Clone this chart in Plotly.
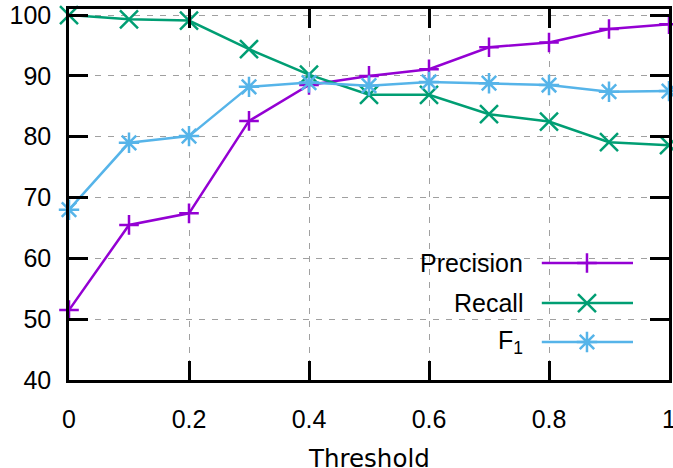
import plotly.graph_objects as go

thresholds = [0.0, 0.1, 0.2, 0.3, 0.4, 0.5, 0.6, 0.7, 0.8, 0.9, 1.0]
precision = [51.5, 65.5, 67.4, 82.6, 88.5, 90.0, 91.1, 94.7, 95.5, 97.7, 98.5]
recall = [100.0, 99.3, 99.1, 94.4, 90.2, 86.9, 86.9, 83.7, 82.5, 79.1, 78.6]
f1 = [68.0, 79.0, 80.1, 88.2, 88.9, 88.4, 89.0, 88.8, 88.5, 87.4, 87.5]

series_names = ["Precision", "Recall", "F<sub>1</sub>"]
series_colors = ["#9400d3", "#009e73", "#56b4e9"]
series_symbols = ["cross-thin", "x-thin", "asterisk-open"]
series_sizes = [14, 18, 17]
series_values = [precision, recall, f1]

x_ticks = [0, 0.2, 0.4, 0.6, 0.8, 1]
x_ticklabels = ["0", "0.2", "0.4", "0.6", "0.8", "1"]
y_ticks = [40, 50, 60, 70, 80, 90, 100]
x_title = "Threshold"

fig = go.Figure()

for name, color, sym, size, vals in zip(series_names, series_colors, series_symbols, series_sizes, series_values):
    fig.add_trace(go.Scatter(
        x=thresholds, y=vals, mode="lines+markers", name=name,
        line=dict(color=color, width=2.5),
        marker=dict(symbol=sym, size=size, color=color, line=dict(color=color, width=2.5)),
        cliponaxis=False, showlegend=False,
    ))

# manual key (gnuplot style: text right-aligned, sample on the right)
key_y = [0.3154, 0.2075, 0.1024]
key_text_x = 0.76
key_line_x = [0.788, 0.94]
key_mark_x = 0.8633
for name, color, sym, size, ky in zip(series_names, series_colors, series_symbols, series_sizes, key_y):
    fig.add_trace(go.Scatter(
        x=key_line_x, y=[ky, ky], mode="lines", xaxis="x2", yaxis="y2",
        line=dict(color=color, width=2.5), showlegend=False, hoverinfo="skip",
    ))
    fig.add_trace(go.Scatter(
        x=[key_mark_x], y=[ky], mode="markers", xaxis="x2", yaxis="y2",
        marker=dict(symbol=sym, size=size, color=color, line=dict(color=color, width=2.5)),
        showlegend=False, hoverinfo="skip", cliponaxis=False,
    ))
    fig.add_annotation(
        x=key_text_x, y=ky, xref="paper", yref="paper", text=name, showarrow=False,
        xanchor="right", yanchor="middle",
        font=dict(family="Liberation Sans", size=25, color="black"),
    )

# x-axis title placed as an annotation (sits near the bottom edge as in the reference)
fig.add_annotation(
    x=0.5, y=-0.2116, xref="paper", yref="paper", text=x_title, showarrow=False,
    xanchor="center", yanchor="middle",
    font=dict(family="DejaVu Sans", size=24.5, color="black"),
)

# opaque key box
fig.add_shape(type="rect", xref="paper", yref="paper", x0=0.4717, x1=1.0, y0=0.0, y1=0.377,
              fillcolor="white", line=dict(width=0), layer="between")

axis_common = dict(
    showline=True, linecolor="black", linewidth=2.5, mirror="ticks",
    ticks="inside", ticklen=19, tickwidth=2.5, tickcolor="black",
    showgrid=True, gridcolor="#a0a0a0", gridwidth=1, griddash="6px,7px",
    zeroline=False, automargin=False, ticklabeloverflow="allow",
    tickfont=dict(family="Liberation Sans", size=25, color="black"),
)

fig.update_layout(
    width=673, height=468,
    margin=dict(l=69, r=4, t=9, b=88),
    plot_bgcolor="white", paper_bgcolor="white",
    xaxis=dict(range=[0, 1], tickvals=x_ticks, ticktext=x_ticklabels,
               ticklabelstandoff=15, **axis_common),
    yaxis=dict(range=[40, 101], tickvals=y_ticks, ticklabelstandoff=10, **axis_common),
    xaxis2=dict(range=[0, 1], overlaying="x", anchor="y2", visible=False),
    yaxis2=dict(range=[0, 1], overlaying="y", anchor="x2", visible=False),
    showlegend=False,
)

fig.write_html("out.html", config={"displayModeBar": False},
               post_script="document.body.style.margin='0';document.body.style.padding='0';")
